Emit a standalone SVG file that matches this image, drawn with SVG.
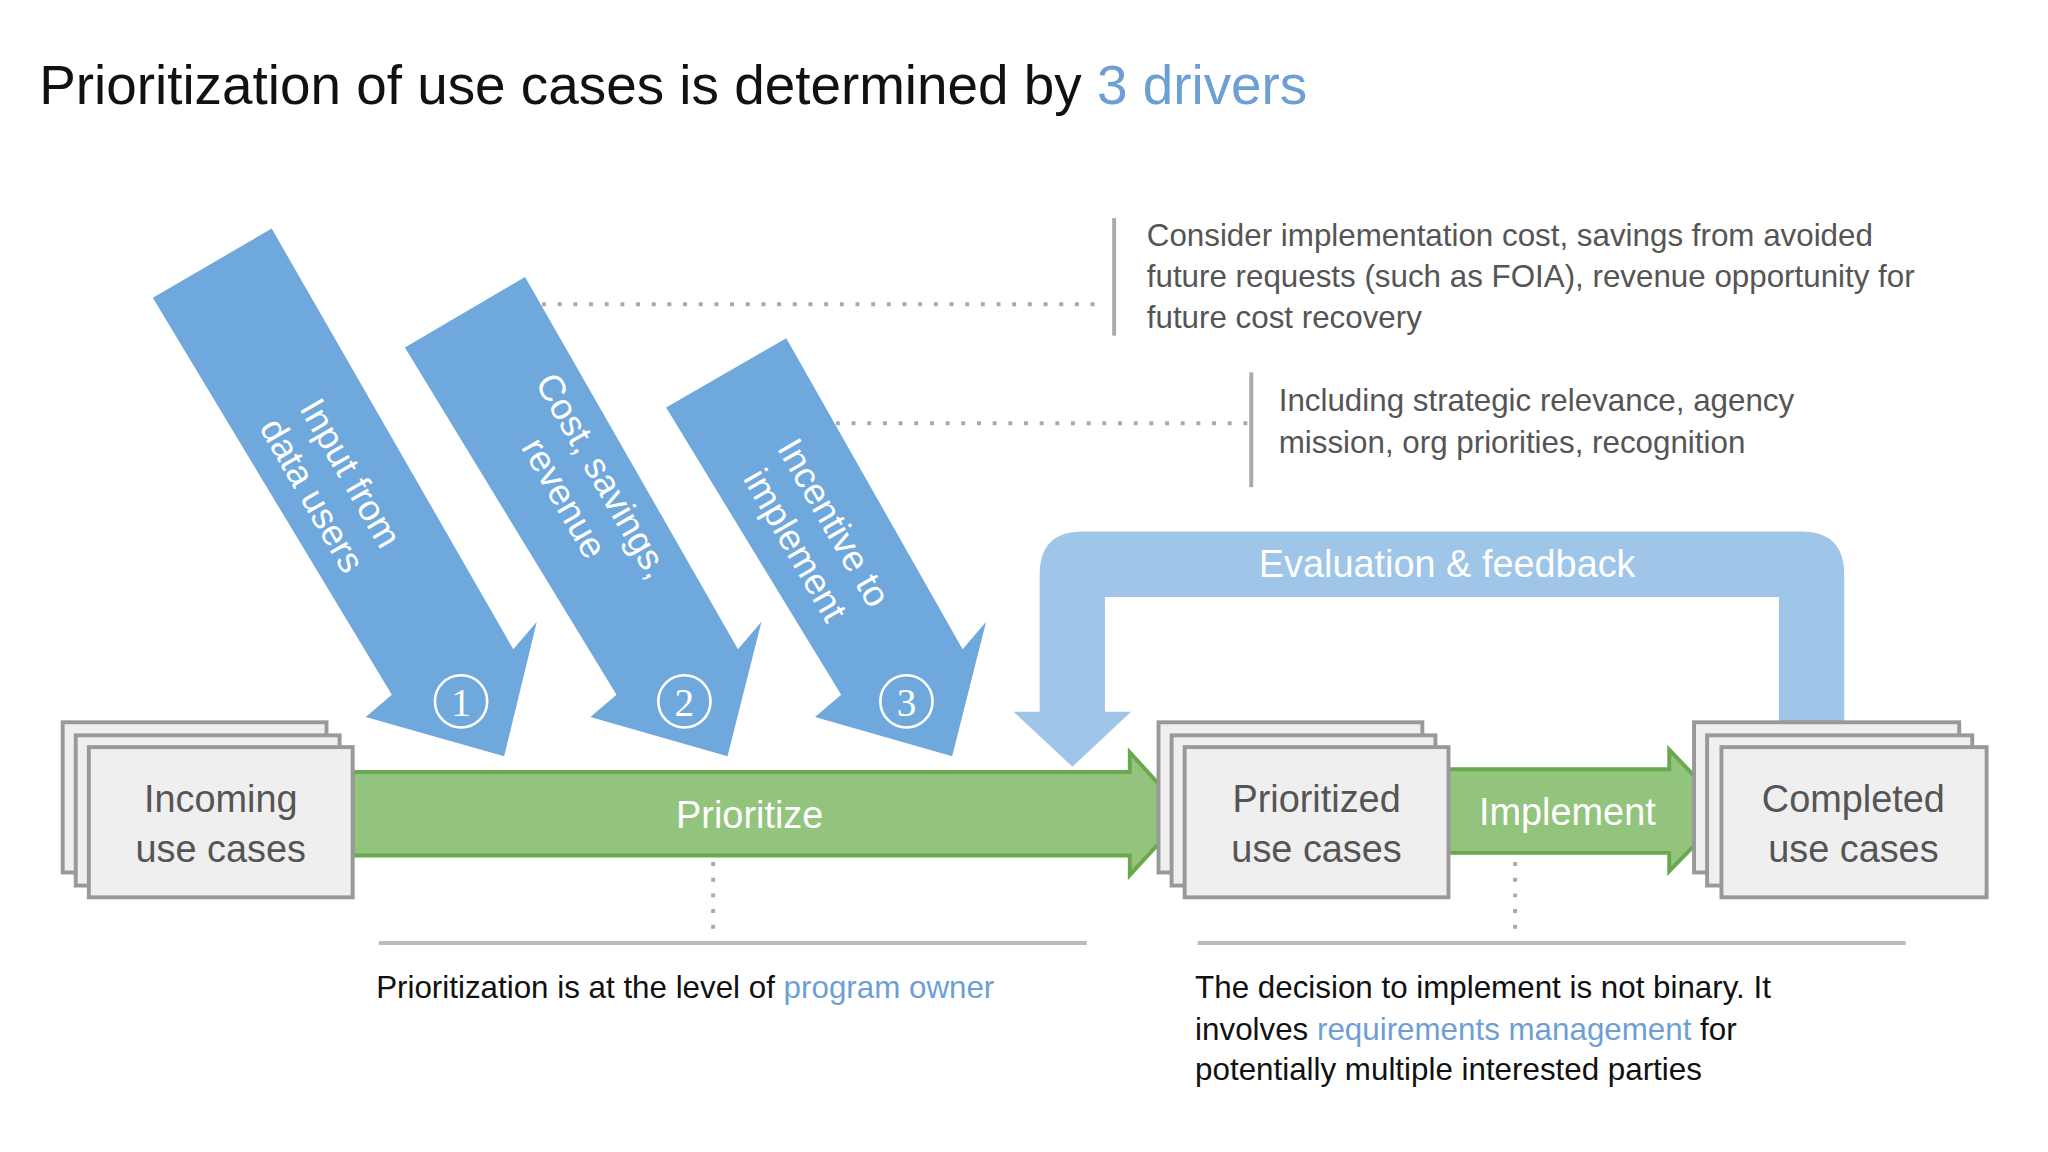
<svg xmlns="http://www.w3.org/2000/svg" width="2048" height="1152" viewBox="0 0 2048 1152">
<style>
text{font-family:"Liberation Sans",Arial,sans-serif}
.drv{fill:#6fa8dc}
.dt{fill:#fff;font-size:28px;text-anchor:middle}
.num{fill:#fff;font-family:"Liberation Serif",serif;font-size:30px;text-anchor:middle}
.ring{fill:none;stroke:#fff;stroke-width:2}
.box{fill:#efefef;stroke:#999;stroke-width:3}
.bt{fill:#555;font-size:29px;text-anchor:middle}
.gr{fill:#93c47d;stroke:#6aa84f;stroke-width:3}
.note{fill:#555;font-size:24px}
.dot{stroke:#aaa;stroke-width:3;stroke-dasharray:3 9;fill:none}
.bar{stroke:#aaa;stroke-width:3}
.cap{fill:#111;font-size:24px}
.bl{fill:#6d9fd5}
</style>
<rect width="2048" height="1152" fill="#fff"/>
<g transform="scale(1.30612)">
<text x="30" y="80" style="font-size:42px;fill:#111">Prioritization of use cases is determined by <tspan class="bl">3 drivers</tspan></text>

<g id="connectors">
<line class="dot" x1="415" y1="233" x2="840" y2="233"/>
<line class="bar" x1="853" y1="167" x2="853" y2="257"/>
<line class="dot" x1="640" y1="324" x2="955" y2="324"/>
<line class="bar" x1="958" y1="285" x2="958" y2="373"/>
<line class="dot" x1="546" y1="660" x2="546" y2="712"/>
<line class="dot" x1="1160" y1="660" x2="1160" y2="712"/>
<line stroke="#bbb" stroke-width="3" x1="290" y1="722" x2="832" y2="722"/>
<line stroke="#bbb" stroke-width="3" x1="917" y1="722" x2="1459" y2="722"/>
</g>

<g id="note1">
<text class="note" x="878" y="188">Consider implementation cost, savings from avoided</text>
<text class="note" x="878" y="220">future requests (such as FOIA), revenue opportunity for</text>
<text class="note" x="878" y="251">future cost recovery</text>
</g>
<g id="note2">
<text class="note" x="979" y="315">Including strategic relevance, agency</text>
<text class="note" x="979" y="347">mission, org priorities, recognition</text>
</g>

<g id="driver1">
<polygon class="drv" points="117,228 208,175 393,497 411,476 386,579 280,549 300,532"/>
<text class="dt" transform="translate(255,370) rotate(60)"><tspan x="0" y="-6">Input from</tspan><tspan x="0" y="28">data users</tspan></text>
<circle class="ring" cx="353" cy="537" r="20"/><text class="num" x="353" y="548">1</text>
</g>
<g id="driver2">
<polygon class="drv" points="310,266 402,212 565,497 583,476 557,579 452,549 472,532"/>
<text class="dt" transform="translate(448,372) rotate(60)"><tspan x="0" y="-6">Cost, savings,</tspan><tspan x="0" y="28">revenue</tspan></text>
<circle class="ring" cx="524" cy="537" r="20"/><text class="num" x="524" y="548">2</text>
</g>
<g id="driver3">
<polygon class="drv" points="510,312 602,259 737,497 755,476 729,579 624,549 644,532"/>
<text class="dt" transform="translate(625,408) rotate(60)"><tspan x="0" y="-6">Incentive to</tspan><tspan x="0" y="28">implement</tspan></text>
<circle class="ring" cx="694" cy="537" r="20"/><text class="num" x="694" y="548">3</text>
</g>

<g id="feedback">
<path fill="#9fc5e8" d="M796,545 L796,440 Q796,407 829,407 L1379,407 Q1412,407 1412,440 L1412,555 L1362,555 L1362,457 L846,457 L846,545 L866,545 L821,587 L776,545 Z"/>
<text x="1108" y="442" style="fill:#fff;font-size:29px;text-anchor:middle">Evaluation &amp; feedback</text>
</g>

<g id="prioritize">
<polygon class="gr" points="270,591 865,591 865,576 908,623 865,670 865,655 270,655"/>
<text x="574" y="634" style="fill:#fff;font-size:29px;text-anchor:middle">Prioritize</text>
</g>
<g id="implement">
<polygon class="gr" points="1108,589 1278,589 1278,574 1323,621 1278,667 1278,653 1108,653"/>
<text x="1200" y="632" style="fill:#fff;font-size:29px;text-anchor:middle">Implement</text>
</g>

<g id="incoming">
<rect class="box" x="48" y="553" width="202" height="115"/>
<rect class="box" x="58" y="563" width="202" height="115"/>
<rect class="box" x="68" y="572" width="202" height="115"/>
<text class="bt" x="169" y="622">Incoming</text><text class="bt" x="169" y="660">use cases</text>
</g>
<g id="prioritized">
<rect class="box" x="887" y="553" width="202" height="115"/>
<rect class="box" x="897" y="563" width="202" height="115"/>
<rect class="box" x="907" y="572" width="202" height="115"/>
<text class="bt" x="1008" y="622">Prioritized</text><text class="bt" x="1008" y="660">use cases</text>
</g>
<g id="completed">
<rect class="box" x="1297" y="553" width="203" height="115"/>
<rect class="box" x="1307" y="563" width="203" height="115"/>
<rect class="box" x="1318" y="572" width="203" height="115"/>
<text class="bt" x="1419" y="622">Completed</text><text class="bt" x="1419" y="660">use cases</text>
</g>

<g id="captions">
<text class="cap" x="288" y="764">Prioritization is at the level of <tspan class="bl">program owner</tspan></text>
<text class="cap" x="915" y="764">The decision to implement is not binary.  It</text>
<text class="cap" x="915" y="796">involves <tspan class="bl">requirements management</tspan> for</text>
<text class="cap" x="915" y="827">potentially multiple interested parties</text>
</g>
</g>
</svg>
